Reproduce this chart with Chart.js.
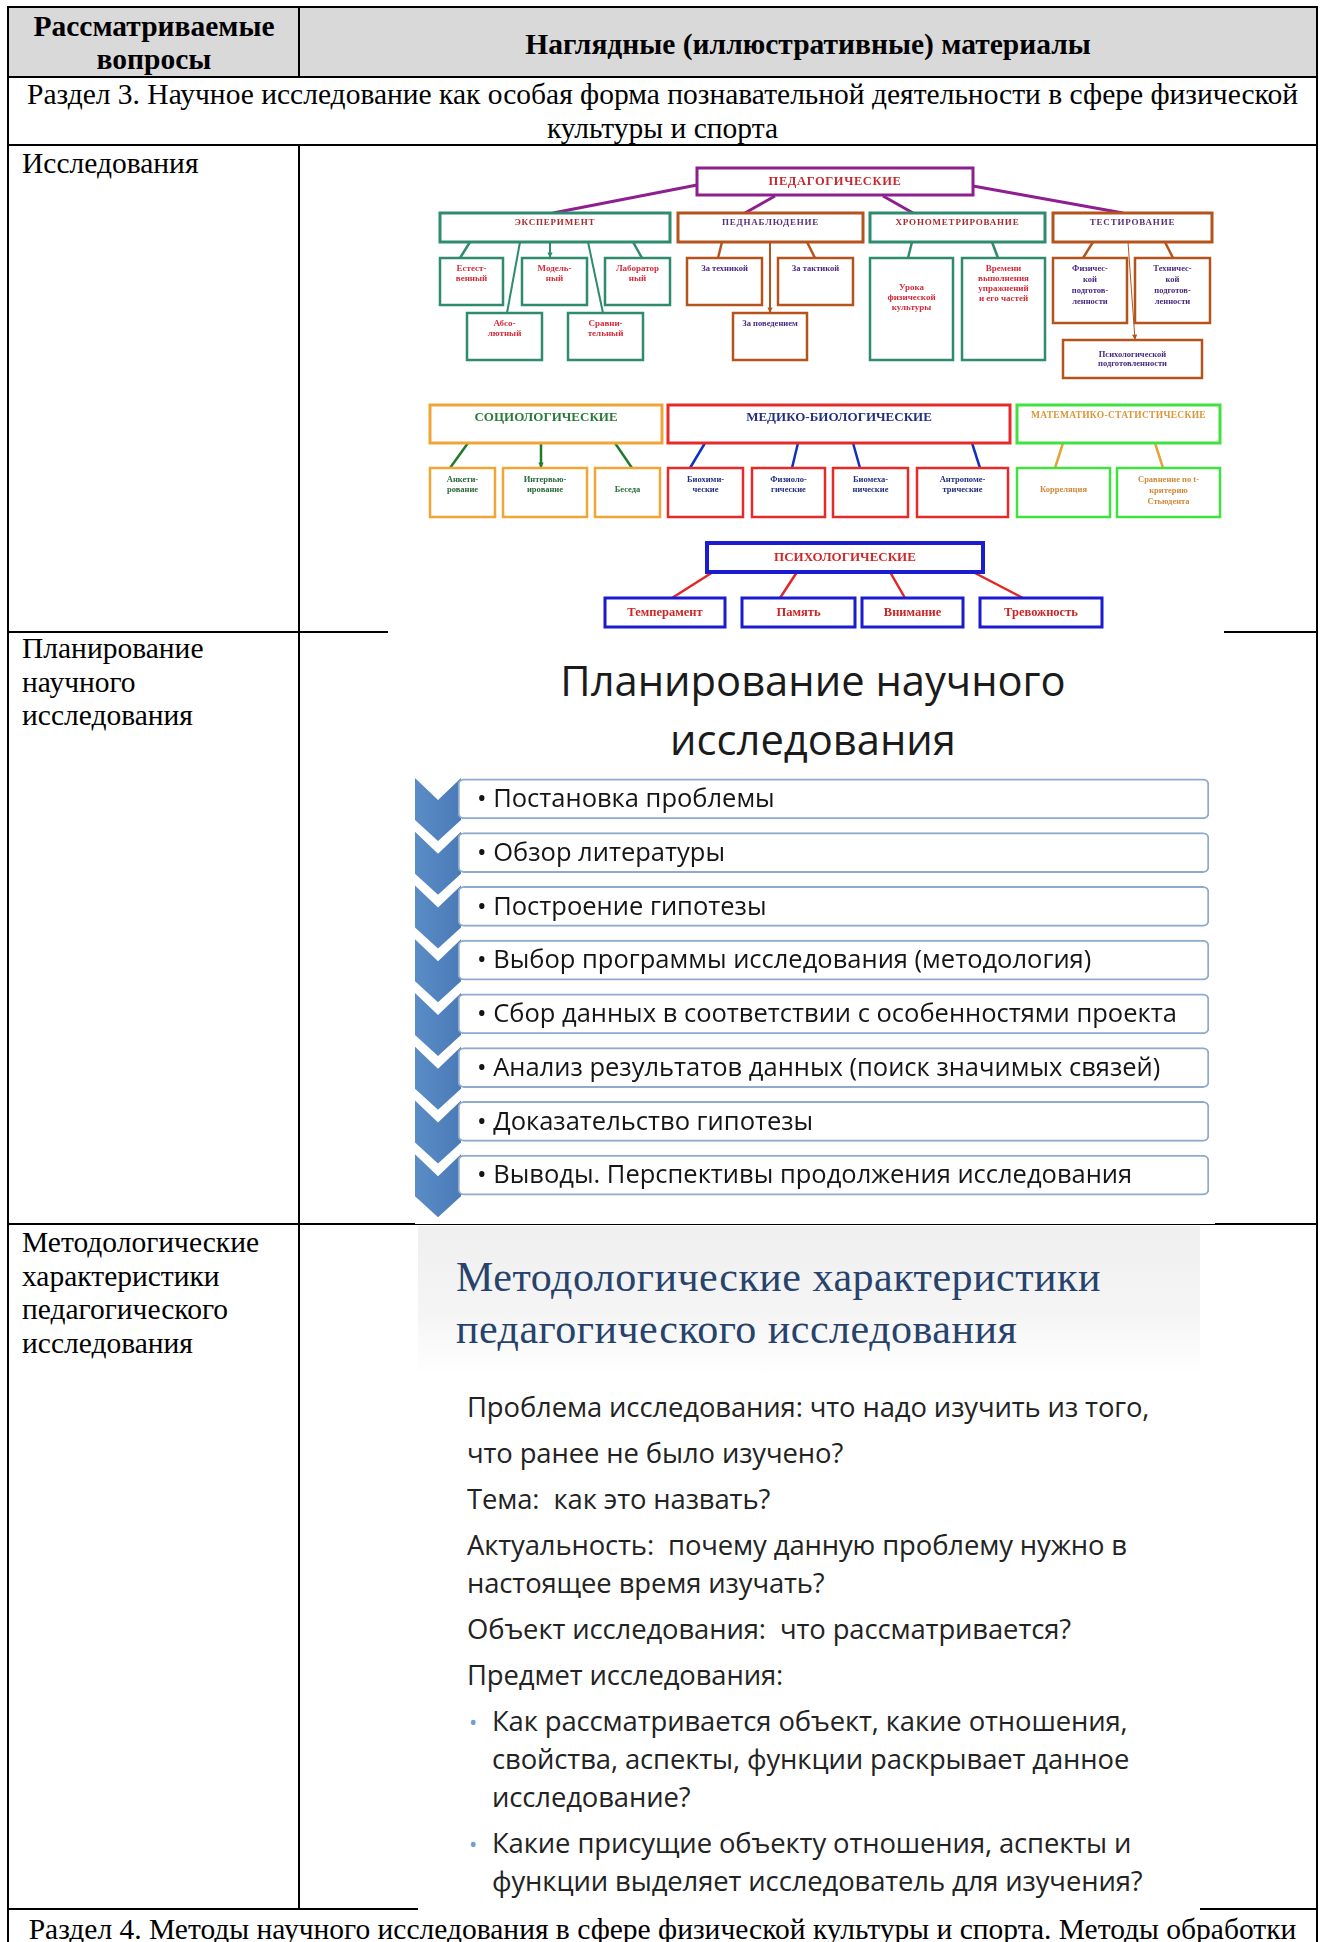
<!DOCTYPE html>
<html lang="ru">
<head>
<meta charset="utf-8">
<title>Наглядные материалы</title>
<script src="https://cdn.jsdelivr.net/npm/chart.js@4/dist/chart.umd.min.js"></script>
<style>
  html, body { margin: 0; padding: 0; background: #fff; }
  body { width: 1327px; height: 1942px; position: relative; overflow: hidden; font-family: "Liberation Serif", serif; color: #000; }
  .abs { position: absolute; }
  .hl { position: absolute; height: 2px; background: #000; z-index: 1; }
  .vl { position: absolute; width: 2px; background: #000; z-index: 1; }
  .serif { font-size: 29.5px; line-height: 33.7px; }
  .head { font-weight: bold; font-size: 29.5px; line-height: 33px; text-align: center; }
  .pic { position: absolute; z-index: 2; }
  #planTitle { font-family: "Open Sans", sans-serif; font-size: 41.7px; line-height: 59px; color: #1b1b1b; text-align: center; }
  #method { background: linear-gradient(to bottom, #efefef 0px, #f5f5f5 90px, #fbfbfb 125px, #fff 150px); }
  #methodTitle { font-family: "Liberation Serif", serif; font-size: 42px; line-height: 52px; color: #27436d; letter-spacing: 0.5px; }
  #methodBody { font-family: "Open Sans", sans-serif; font-size: 27.4px; color: #222; letter-spacing: -0.1px; }
  #methodBody p { margin: 0 0 8px 0; line-height: 38px; white-space: nowrap; }
  #methodBody .b { position: relative; padding-left: 25px; }
  #methodBody .b::before { content: "•"; position: absolute; left: 2px; color: #6f9fd0; font-size: 22px; }
</style>
</head>
<body>
<script>
// ---- table text ----
const headerLeft = ['Рассматриваемые', 'вопросы'];
const headerRight = 'Наглядные (иллюстративные) материалы';
const section3 = ['Раздел 3. Научное исследование как особая форма познавательной деятельности в сфере физической', 'культуры и спорта'];
const section4 = 'Раздел 4. Методы научного исследования в сфере физической культуры и спорта. Методы обработки';
const rowTopics = [
  ['Исследования'],
  ['Планирование', 'научного', 'исследования'],
  ['Методологические', 'характеристики', 'педагогического', 'исследования'],
];

// ---- diagram 1: classification of research methods ----
const rootLabel = 'ПЕДАГОГИЧЕСКИЕ';
const pedBranches = ['ЭКСПЕРИМЕНТ', 'ПЕДНАБЛЮДЕНИЕ', 'ХРОНОМЕТРИРОВАНИЕ', 'ТЕСТИРОВАНИЕ'];
const experimentKinds = ['Естест-\nвенный', 'Модель-\nный', 'Лаборатор\nный', 'Абсо-\nлютный', 'Сравни-\nтельный'];
const observationKinds = ['За техникой', 'За тактикой', 'За поведением'];
const timingKinds = ['Урока\nфизической\nкультуры', 'Времени\nвыполнения\nупражнений\nи его частей'];
const testingKinds = ['Физичес-\nкой\nподготов-\nленности', 'Техничес-\nкой\nподготов-\nленности', 'Психологической\nподготовленности'];
const otherGroups = ['СОЦИОЛОГИЧЕСКИЕ', 'МЕДИКО-БИОЛОГИЧЕСКИЕ', 'МАТЕМАТИКО-СТАТИСТИЧЕСКИЕ', 'ПСИХОЛОГИЧЕСКИЕ'];
const socioKinds = ['Анкети-\nрование', 'Интервью-\nирование', 'Беседа'];
const medKinds = ['Биохими-\nческие', 'Физиоло-\nгические', 'Биомеха-\nнические', 'Антропоме-\nтрические'];
const mathKinds = ['Корреляция', 'Сравнение по t-\nкритерию\nСтьюдента'];
const psychKinds = ['Темперамент', 'Память', 'Внимание', 'Тревожность'];

// ---- diagram 2: planning steps ----
const planTitle = ['Планирование научного', 'исследования'];
const planSteps = [
  'Постановка проблемы',
  'Обзор литературы',
  'Построение гипотезы',
  'Выбор программы исследования (методология)',
  'Сбор данных в соответствии с особенностями проекта',
  'Анализ результатов данных (поиск значимых связей)',
  'Доказательство гипотезы',
  'Выводы. Перспективы продолжения исследования',
];
const planStepSpan = [1, 1, 1, 1, 1, 1, 1, 1];

// ---- diagram 3: methodological characteristics ----
const methodTitle = ['Методологические характеристики', 'педагогического исследования'];
const methodParas = [
  'Проблема исследования: что надо изучить из того,',
  'что ранее не было изучено?',
  'Тема:&nbsp; как это назвать?',
  'Актуальность:&nbsp; почему данную проблему нужно в<br>настоящее время изучать?',
  'Объект исследования:&nbsp; что рассматривается?',
  'Предмет исследования:',
];
const methodBullets = [
  'Как рассматривается объект, какие отношения,<br>свойства, аспекты, функции раскрывает данное<br>исследование?',
  'Какие присущие объекту отношения, аспекты и<br>функции выделяет исследователь для изучения?',
];
</script>

<!-- table frame -->
<div class="abs" style="left:8px;top:7px;width:1310px;height:70px;background:#d9d9d9"></div>
<div class="hl" style="left:7px;width:1311px;top:6px"></div>
<div class="hl" style="left:7px;width:1311px;top:76px"></div>
<div class="hl" style="left:7px;width:1311px;top:144px"></div>
<div class="hl" style="left:7px;width:1311px;top:631px"></div>
<div class="hl" style="left:7px;width:1311px;top:1223px"></div>
<div class="hl" style="left:7px;width:1311px;top:1908px"></div>
<div class="vl" style="left:7px;top:6px;height:1940px"></div>
<div class="vl" style="left:1316px;top:6px;height:1940px"></div>
<div class="vl" style="left:298px;top:6px;height:71px"></div>
<div class="vl" style="left:298px;top:144px;height:1766px"></div>

<div id="hdrL" class="abs head" style="left:9px;width:290px;top:10px"></div>
<div id="hdrR" class="abs head" style="left:300px;width:1016px;top:28px"></div>
<div id="sec3" class="abs serif" style="left:9px;width:1307px;top:78px;text-align:center"></div>
<div id="topic0" class="abs serif" style="left:22px;top:147px"></div>
<div id="topic1" class="abs serif" style="left:22px;top:632px"></div>
<div id="topic2" class="abs serif" style="left:22px;top:1226px"></div>
<div id="sec4" class="abs serif" style="left:9px;width:1307px;top:1913px;text-align:center;white-space:nowrap"></div>

<!-- picture 1 -->
<canvas id="treeChart" class="pic" width="836" height="473" style="left:388px;top:161px;width:836px;height:473px"></canvas>

<!-- picture 2 -->
<div class="pic" style="left:415px;top:634px;width:800px;height:590px;background:#fff"></div>
<div id="planTitle" class="pic" style="left:415px;top:650px;width:796px"></div>
<canvas id="planChart" class="pic" width="800" height="454" style="left:415px;top:770px;width:800px;height:454px"></canvas>

<!-- picture 3 -->
<div id="method" class="pic" style="left:418px;top:1226px;width:782px;height:685px">
  <div id="methodTitle" class="abs" style="left:38px;top:25px"></div>
  <div id="methodBody" class="abs" style="left:49px;top:162px;width:730px"></div>
</div>

<script>
document.getElementById('hdrL').innerHTML = headerLeft.join('<br>');
document.getElementById('hdrR').textContent = headerRight;
document.getElementById('sec3').innerHTML = section3.join('<br>');
document.getElementById('sec4').textContent = section4;
rowTopics.forEach((lines, i) => { document.getElementById('topic' + i).innerHTML = lines.join('<br>'); });
document.getElementById('planTitle').innerHTML = planTitle.join('<br>');
document.getElementById('methodTitle').innerHTML = methodTitle.join('<br>');
document.getElementById('methodBody').innerHTML =
  methodParas.map(p => '<p>' + p + '</p>').join('') +
  methodBullets.map(p => '<p class="b">' + p + '</p>').join('');

// ---- tree diagram layout (page coordinates) ----
const F = '"Liberation Serif", serif';
const ST = {
  root:    { stroke: '#8d1f8f', lw: 3,   color: '#c8282e', font: 'bold 12.5px ' + F, ls: '0.6px' },
  greenH:  { stroke: '#2e8b6d', lw: 3,   color: '#a82a2e', font: 'bold 9px ' + F, ls: '0.8px', ty: 10 },
  brownH:  { stroke: '#b5531c', lw: 3,   color: '#5b2f78', font: 'bold 9px ' + F, ls: '0.8px', ty: 10 },
  greenC:  { stroke: '#2e8b6d', lw: 2.5, color: '#d42b3a', font: 'bold 9px ' + F, ty: 11, lh: 10 },
  brownC:  { stroke: '#b5531c', lw: 2.5, color: '#4a2a80', font: 'bold 8.5px ' + F, ty: 11, lh: 11 },
  socioH:  { stroke: '#efa637', lw: 3,   color: '#2a7a3a', font: 'bold 13px ' + F, ty: 13 },
  medH:    { stroke: '#e52a2a', lw: 3,   color: '#232f80', font: 'bold 13px ' + F, ty: 13 },
  mathH:   { stroke: '#3fe23f', lw: 3,   color: '#d9963a', font: 'bold 9.5px ' + F, ty: 11, ls: '0.3px' },
  psychH:  { stroke: '#1b1bcf', lw: 4,   color: '#d02828', font: 'bold 13px ' + F },
  socioC:  { stroke: '#efa637', lw: 2.5, color: '#2a6a3a', font: 'bold 8.5px ' + F, ty: 12, lh: 10 },
  medC:    { stroke: '#e52a2a', lw: 2.5, color: '#232f80', font: 'bold 8.5px ' + F, ty: 12, lh: 10 },
  mathC:   { stroke: '#3fe23f', lw: 2.5, color: '#d08a3a', font: 'bold 8.5px ' + F, ty: 12, lh: 11 },
  psychC:  { stroke: '#1b1bcf', lw: 3,   color: '#cc2525', font: 'bold 12.5px ' + F },
};
const rootBox = [697, 168, 973, 195];
const branchBoxes = [[440, 213, 670, 242], [678, 213, 863, 242], [870, 213, 1045, 242], [1053, 213, 1212, 242]];
const experimentBoxes = [[440, 258, 503, 305], [522, 258, 587, 305], [605, 258, 670, 305], [467, 313, 542, 360], [568, 313, 643, 360]];
const observationBoxes = [[687, 258, 762, 305], [778, 258, 853, 305], [733, 313, 807, 360]];
const timingBoxes = [[870, 258, 953, 360], [962, 258, 1045, 360]];
const testingBoxes = [[1053, 258, 1127, 323], [1135, 258, 1210, 323], [1063, 340, 1202, 378]];
const groupBoxes = [[430, 405, 662, 443], [668, 405, 1010, 443], [1017, 405, 1220, 443], [707, 543, 983, 572]];
const socioBoxes = [[430, 468, 495, 517], [503, 468, 587, 517], [595, 468, 660, 517]];
const medBoxes = [[668, 468, 743, 517], [752, 468, 825, 517], [833, 468, 908, 517], [917, 468, 1008, 517]];
const mathBoxes = [[1017, 468, 1110, 517], [1117, 468, 1220, 517]];
const psychBoxes = [[605, 598, 725, 627], [742, 598, 855, 627], [862, 598, 963, 627], [980, 598, 1102, 627]];

const treeNodes = [
  { t: rootLabel, r: rootBox, s: ST.root },
  ...pedBranches.map((t, i) => ({ t, r: branchBoxes[i], s: i % 2 ? ST.brownH : ST.greenH })),
  ...experimentKinds.map((t, i) => ({ t, r: experimentBoxes[i], s: ST.greenC })),
  ...observationKinds.map((t, i) => ({ t, r: observationBoxes[i], s: ST.brownC })),
  { t: timingKinds[0], r: timingBoxes[0], s: Object.assign({}, ST.greenC, { ty: 30 }) },
  { t: timingKinds[1], r: timingBoxes[1], s: ST.greenC },
  { t: testingKinds[0], r: testingBoxes[0], s: ST.brownC },
  { t: testingKinds[1], r: testingBoxes[1], s: ST.brownC },
  { t: testingKinds[2], r: testingBoxes[2], s: Object.assign({}, ST.brownC, { ty: null, lh: 9 }) },
  { t: otherGroups[0], r: groupBoxes[0], s: ST.socioH },
  { t: otherGroups[1], r: groupBoxes[1], s: ST.medH },
  { t: otherGroups[2], r: groupBoxes[2], s: ST.mathH },
  { t: otherGroups[3], r: groupBoxes[3], s: ST.psychH },
  ...socioKinds.map((t, i) => ({ t, r: socioBoxes[i], s: t.includes('\n') ? ST.socioC : Object.assign({}, ST.socioC, { ty: 22 }) })),
  ...medKinds.map((t, i) => ({ t, r: medBoxes[i], s: ST.medC })),
  { t: mathKinds[0], r: mathBoxes[0], s: Object.assign({}, ST.mathC, { ty: 22 }) },
  { t: mathKinds[1], r: mathBoxes[1], s: ST.mathC },
  ...psychKinds.map((t, i) => ({ t, r: psychBoxes[i], s: ST.psychC })),
];

// connectors: x1, y1, x2, y2, colour, width, arrow
const treeLinks = [
  [697, 185, 553, 213, '#8d1f8f', 3], [775, 196, 745, 213, '#8d1f8f', 3],
  [883, 196, 913, 213, '#8d1f8f', 3], [973, 186, 1123, 213, '#8d1f8f', 3],
  [470, 242, 460, 258, '#2e8b6d', 2.5], [550, 242, 550, 258, '#2e8b6d', 2, true], [633, 242, 642, 258, '#2e8b6d', 2.5],
  [520, 242, 507, 313, '#2e8b6d', 2], [588, 242, 603, 313, '#2e8b6d', 2],
  [722, 242, 718, 258, '#b5531c', 2.5], [807, 242, 815, 258, '#b5531c', 2.5], [770, 242, 770, 313, '#b5531c', 2, true],
  [912, 242, 908, 258, '#2e8b6d', 2.5], [992, 242, 998, 258, '#2e8b6d', 2.5],
  [1093, 242, 1083, 258, '#b5531c', 2.5], [1165, 242, 1173, 258, '#b5531c', 2.5], [1128, 242, 1135, 340, '#b5531c', 1, true],
  [468, 443, 450, 468, '#1f7a2a', 2.5], [541, 443, 541, 468, '#1f7a2a', 2.5, true], [615, 443, 632, 468, '#1f7a2a', 2.5],
  [705, 443, 690, 468, '#1030c0', 2.5], [798, 443, 792, 468, '#1030c0', 2.5],
  [853, 443, 860, 468, '#1030c0', 2.5], [972, 443, 980, 468, '#1030c0', 2.5],
  [1063, 443, 1055, 468, '#e3a23a', 2.5], [1155, 443, 1163, 468, '#e3a23a', 2.5],
  [713, 572, 672, 598, '#e02828', 2.5], [797, 572, 780, 598, '#e02828', 2.5],
  [890, 572, 905, 598, '#e02828', 2.5], [973, 572, 1023, 598, '#e02828', 2.5],
];

const treePlugin = {
  id: 'treeDraw',
  beforeDraw(chart) {
    const { ctx, width, height } = chart;
    ctx.save();
    ctx.fillStyle = '#fff';
    ctx.fillRect(0, 0, width, height);
    ctx.restore();
  },
  afterDraw(chart) {
    const { ctx, scales: { x, y } } = chart;
    const px = v => x.getPixelForValue(v);
    const py = v => y.getPixelForValue(v);
    ctx.save();
    treeLinks.forEach(([x1, y1, x2, y2, col, w, arrow]) => {
      ctx.strokeStyle = col; ctx.fillStyle = col; ctx.lineWidth = w;
      ctx.beginPath(); ctx.moveTo(px(x1), py(y1)); ctx.lineTo(px(x2), py(y2)); ctx.stroke();
      if (arrow) {
        const a = Math.atan2(py(y2) - py(y1), px(x2) - px(x1));
        ctx.beginPath();
        ctx.moveTo(px(x2), py(y2));
        ctx.lineTo(px(x2) - 6 * Math.cos(a - 0.45), py(y2) - 6 * Math.sin(a - 0.45));
        ctx.lineTo(px(x2) - 6 * Math.cos(a + 0.45), py(y2) - 6 * Math.sin(a + 0.45));
        ctx.closePath(); ctx.fill();
      }
    });
    treeNodes.forEach(n => {
      const s = n.s;
      const x0 = px(n.r[0]), y0 = py(n.r[1]), x1 = px(n.r[2]), y1 = py(n.r[3]);
      ctx.fillStyle = '#fff';
      ctx.fillRect(x0, y0, x1 - x0, y1 - y0);
      ctx.strokeStyle = s.stroke; ctx.lineWidth = s.lw;
      ctx.strokeRect(x0, y0, x1 - x0, y1 - y0);
      const lines = n.t.split('\n');
      const lh = s.lh || 11;
      ctx.font = s.font; ctx.fillStyle = s.color;
      ctx.textAlign = 'center'; ctx.textBaseline = 'middle';
      ctx.letterSpacing = s.ls || '0px';
      const first = s.ty != null ? y0 + s.ty : (y0 + y1) / 2 - (lines.length - 1) * lh / 2;
      lines.forEach((l, i) => ctx.fillText(l, (x0 + x1) / 2, first + i * lh));
    });
    ctx.restore();
  },
};

new Chart(document.getElementById('treeChart'), {
  type: 'scatter',
  data: { datasets: [] },
  options: {
    responsive: false,
    animation: false,
    events: [],
    layout: { padding: 0 },
    plugins: { legend: { display: false }, tooltip: { enabled: false } },
    scales: {
      x: { type: 'linear', min: 388, max: 1224, display: false },
      y: { type: 'linear', min: 161, max: 634, reverse: true, display: false },
    },
  },
  plugins: [treePlugin],
});

// ---- planning chevron list ----
const chevronPlugin = {
  id: 'chevrons',
  beforeDatasetsDraw(chart) {
    const { ctx, scales: { y }, chartArea } = chart;
    const x0 = chartArea.left - 43, w = 46, mid = x0 + 23;
    ctx.save();
    planSteps.forEach((_, i) => {
      const t = y.getPixelForValue(i) - 21;
      const g = ctx.createLinearGradient(x0, 0, x0 + w, 0);
      g.addColorStop(0, '#5a8cc6');
      g.addColorStop(1, '#4a7bb7');
      ctx.fillStyle = g;
      ctx.beginPath();
      ctx.moveTo(x0, t); ctx.lineTo(mid, t + 22); ctx.lineTo(x0 + w, t);
      ctx.lineTo(x0 + w, t + 42); ctx.lineTo(mid, t + 63); ctx.lineTo(x0, t + 42);
      ctx.closePath(); ctx.fill();
    });
    ctx.restore();
  },
  afterDatasetsDraw(chart) {
    const { ctx, scales: { y }, chartArea } = chart;
    ctx.save();
    ctx.font = '25.5px "Open Sans", sans-serif';
    ctx.fillStyle = '#151515';
    ctx.textBaseline = 'middle';
    planSteps.forEach((s, i) => ctx.fillText('• ' + s, chartArea.left + 19, y.getPixelForValue(i) + 1));
    ctx.restore();
  },
};

new Chart(document.getElementById('planChart'), {
  type: 'bar',
  data: {
    labels: planSteps,
    datasets: [{
      data: planStepSpan,
      backgroundColor: '#fff',
      borderColor: '#8eaacd',
      borderWidth: 2,
      borderRadius: 6,
      borderSkipped: false,
      barThickness: 40,
    }],
  },
  options: {
    indexAxis: 'y',
    responsive: false,
    animation: false,
    events: [],
    layout: { padding: { left: 43, right: 6, top: 2, bottom: 22 } },
    plugins: { legend: { display: false }, tooltip: { enabled: false } },
    scales: {
      x: { display: false, min: 0, max: 1 },
      y: { display: false },
    },
  },
  plugins: [chevronPlugin],
});
</script>
</body>
</html>
